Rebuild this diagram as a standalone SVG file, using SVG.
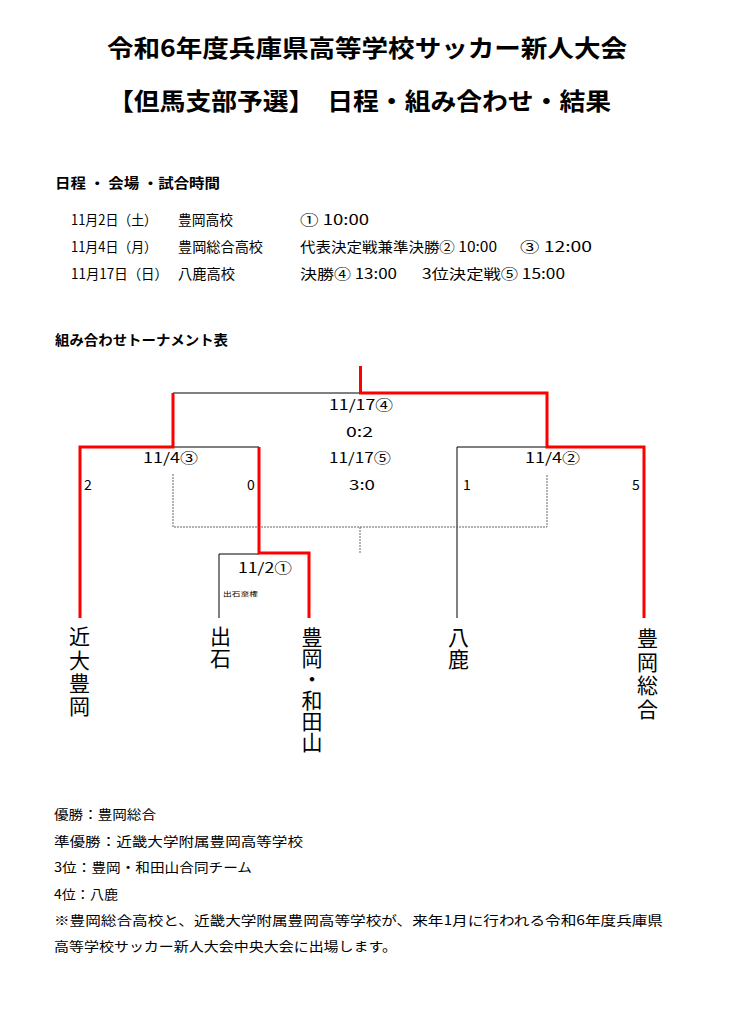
<svg xmlns="http://www.w3.org/2000/svg" width="744" height="1013" viewBox="0 0 744 1013">
<style>
.t{font-family:"Noto Sans CJK JP","Noto Sans",sans-serif;fill:#000}
.b{font-weight:700}
.s14{font-size:14px}
.s13{font-size:13px}
.nm{font-size:21px;writing-mode:vertical-rl;letter-spacing:2.3px}
.red{stroke:#ff0000;stroke-width:3;fill:none;stroke-linejoin:miter}
.blk{stroke:#000;stroke-width:1;fill:none}
.dash{stroke:#666;stroke-width:1;stroke-dasharray:2 1;fill:none}
</style>
<rect width="744" height="1013" fill="#fff"/>
<g id="title">
<text class="t b" x="107" y="57" font-size="24" textLength="520" lengthAdjust="spacingAndGlyphs">令和6年度兵庫県高等学校サッカー新人大会</text>
<text class="t b" x="108" y="110" font-size="24" textLength="503" lengthAdjust="spacingAndGlyphs">【但馬支部予選】　日程・組み合わせ・結果</text>
</g>
<g id="schedule">
<text class="t b s14" x="55" y="188" textLength="165" lengthAdjust="spacingAndGlyphs">日程 ・ 会場 ・試合時間</text>
<text class="t s14" x="71" y="225" textLength="86" lengthAdjust="spacingAndGlyphs">11月2日（土）</text>
<text class="t s14" x="178" y="225" textLength="55" lengthAdjust="spacingAndGlyphs">豊岡高校</text>
<text class="t s14" x="300" y="225" textLength="69" lengthAdjust="spacingAndGlyphs">① 10:00</text>
<text class="t s14" x="71" y="252" textLength="86" lengthAdjust="spacingAndGlyphs">11月4日（月）</text>
<text class="t s14" x="178" y="252" textLength="85" lengthAdjust="spacingAndGlyphs">豊岡総合高校</text>
<text class="t s14" x="300" y="252" textLength="197" lengthAdjust="spacingAndGlyphs">代表決定戦兼準決勝② 10:00</text>
<text class="t s14" x="520" y="252" textLength="72" lengthAdjust="spacingAndGlyphs">③ 12:00</text>
<text class="t s14" x="71" y="279" textLength="97" lengthAdjust="spacingAndGlyphs">11月17日（日）</text>
<text class="t s14" x="178" y="279" textLength="57" lengthAdjust="spacingAndGlyphs">八鹿高校</text>
<text class="t s14" x="300" y="279" textLength="97" lengthAdjust="spacingAndGlyphs">決勝④ 13:00</text>
<text class="t s14" x="422" y="279" textLength="143" lengthAdjust="spacingAndGlyphs">3位決定戦⑤ 15:00</text>
<text class="t b s14" x="55" y="345" textLength="173" lengthAdjust="spacingAndGlyphs">組み合わせトーナメント表</text>
</g>
<g id="connectors">
<polyline class="blk" points="173,393 360,393"/>
<polyline class="blk" points="173,447 259,447"/>
<polyline class="blk" points="219,618 219,554 259,554"/>
<polyline class="blk" points="457,618 457,447 547,447"/>
<polyline class="dash" points="173,474 173,527 547,527 547,474"/>
<polyline class="dash" points="360,527 360,553"/>
<polyline class="red" points="360.5,366 360.5,393 547,393 547,447 644,447 644,618"/>
<polyline class="red" points="80,618 80,447 173,447 173,393"/>
<polyline class="red" points="309,618 309,553 259,553 259,447"/>
</g>
<g id="match-final">
<text class="t s14" x="329" y="410" textLength="64" lengthAdjust="spacingAndGlyphs">11/17④</text>
<text class="t s14" x="346" y="437" textLength="27" lengthAdjust="spacingAndGlyphs">0:2</text>
</g>
<g id="match-third">
<text class="t s14" x="329" y="463" textLength="62" lengthAdjust="spacingAndGlyphs">11/17⑤</text>
<text class="t s14" x="349" y="490" textLength="26" lengthAdjust="spacingAndGlyphs">3:0</text>
</g>
<g id="match-sf1">
<text class="t s14" x="143" y="463" textLength="55" lengthAdjust="spacingAndGlyphs">11/4③</text>
<text class="t s14" x="84" y="490">2</text>
<text class="t s14" x="247" y="490">0</text>
</g>
<g id="match-sf2">
<text class="t s14" x="525" y="463" textLength="55" lengthAdjust="spacingAndGlyphs">11/4②</text>
<text class="t s14" x="463" y="490">1</text>
<text class="t s14" x="632" y="490">5</text>
</g>
<g id="match-r1">
<text class="t s14" x="238" y="573" textLength="54" lengthAdjust="spacingAndGlyphs">11/2①</text>
<text class="t" x="223" y="596" font-size="6" textLength="35" lengthAdjust="spacingAndGlyphs">出石棄権</text>
</g>
<g id="team-kindai">
<text class="t nm" x="79.5" y="626">近大豊岡</text>
</g>
<g id="team-izushi">
<text class="t nm" x="220.5" y="626" style="letter-spacing:1px">出石</text>
</g>
<g id="team-toyooka-wadayama">
<text class="t nm" x="312" y="627" style="letter-spacing:0px">豊岡・和田山</text>
</g>
<g id="team-youka">
<text class="t nm" x="458.5" y="627" style="letter-spacing:1px">八鹿</text>
</g>
<g id="team-toyooka-sogo">
<text class="t nm" x="647.5" y="628" style="letter-spacing:2.5px">豊岡総合</text>
</g>
<g id="results">
<text class="t s13" x="54" y="819" textLength="102" lengthAdjust="spacingAndGlyphs">優勝：豊岡総合</text>
<text class="t s13" x="54" y="846" textLength="249" lengthAdjust="spacingAndGlyphs">準優勝：近畿大学附属豊岡高等学校</text>
<text class="t s13" x="54" y="872" textLength="198" lengthAdjust="spacingAndGlyphs">3位：豊岡・和田山合同チーム</text>
<text class="t s13" x="54" y="899" textLength="64" lengthAdjust="spacingAndGlyphs">4位：八鹿</text>
<text class="t s13" x="54" y="925" textLength="609" lengthAdjust="spacingAndGlyphs">※豊岡総合高校と、近畿大学附属豊岡高等学校が、来年1月に行われる令和6年度兵庫県</text>
<text class="t s13" x="54" y="951" textLength="343" lengthAdjust="spacingAndGlyphs">高等学校サッカー新人大会中央大会に出場します。</text>
</g>
</svg>
